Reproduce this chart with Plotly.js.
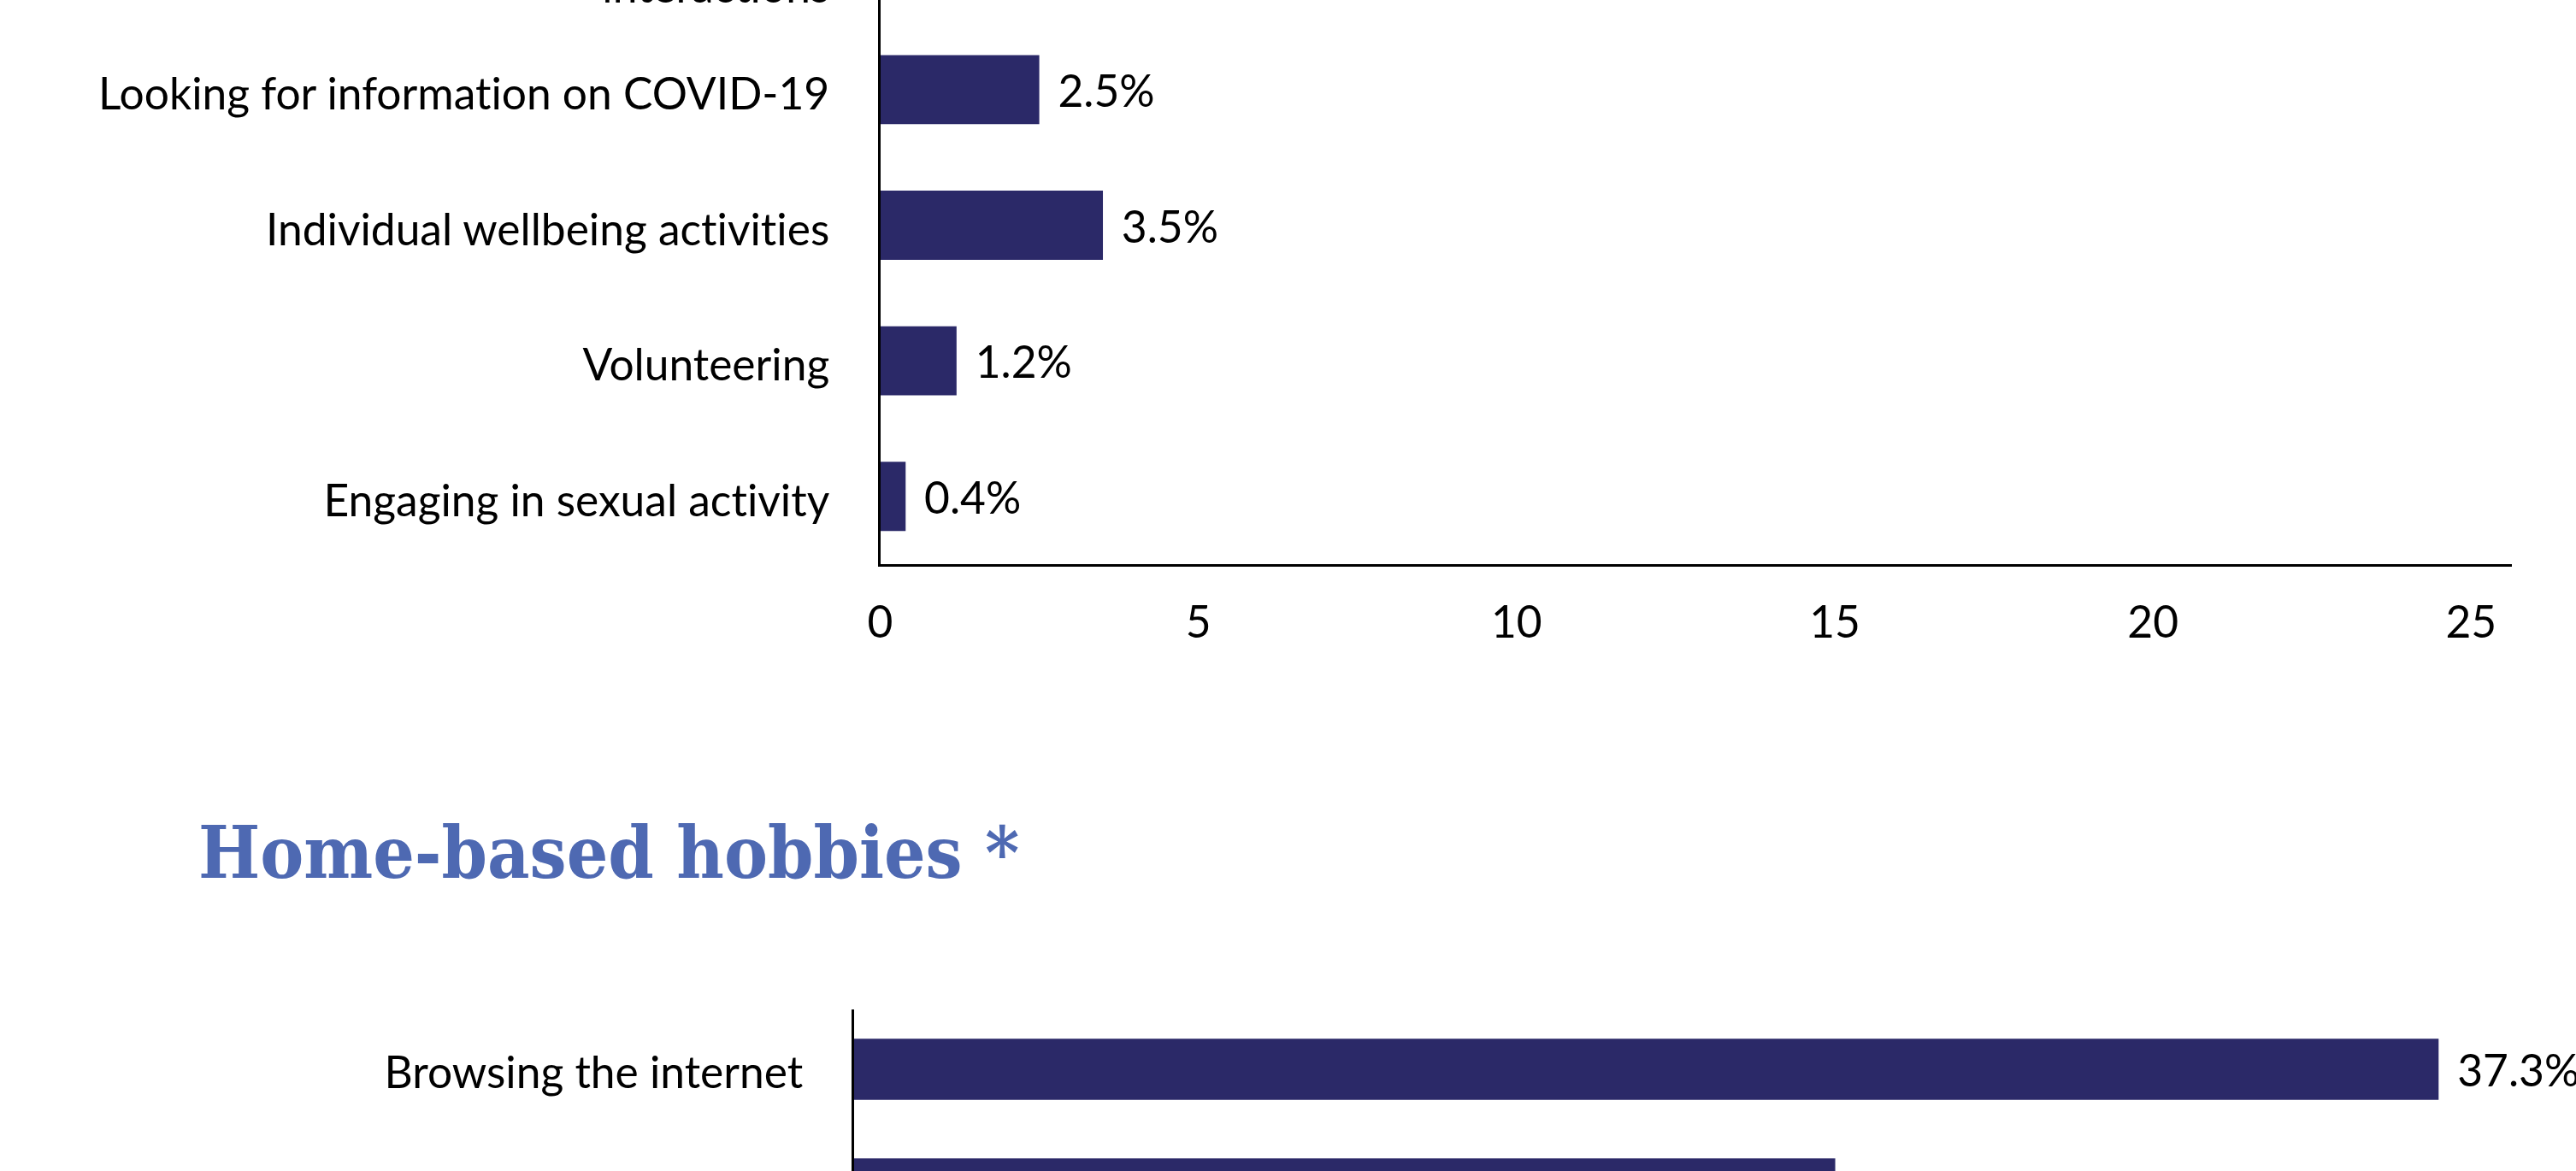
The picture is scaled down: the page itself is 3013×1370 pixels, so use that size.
<!DOCTYPE html>
<html>
<head>
<meta charset="utf-8">
<script src="https://cdn.plot.ly/plotly-3.0.1.min.js"></script>
<style>
  html, body { margin: 0; padding: 0; background: #ffffff; overflow: hidden; width: 3013px; height: 1370px; }
  #chart { position: absolute; left: 0; top: -200px; width: 3013px; height: 1800px; }
  #chart text { font-variant-ligatures: none; font-feature-settings: "liga" 0; }
</style>
</head>
<body>
<div id="chart"></div>
<script>
// ---- Data ----
// Upper chart (top of this view is cut off; first category only partially visible)
const upperCategories = [
  "Online social<br>interactions",
  "Looking for information on COVID-19",
  "Individual wellbeing activities",
  "Volunteering",
  "Engaging in sexual activity"
];
const upperValues = [null, 2.5, 3.5, 1.2, 0.4];
const upperTickValues = [0, 5, 10, 15, 20, 25];
const upperTickLabels = ["0", "5", "10", "15", "20", "25"];

// Lower chart: Home-based hobbies (bottom of this view is cut off)
const lowerTitle = "Home-based hobbies *";
const lowerCategories = ["Browsing the internet", "Watching TV/films"];
const lowerValues = [37.3, 23.1];

// ---- Styling ----
const BAR = "#2b2968";
const LABEL_FONT = { family: "Lato, 'Open Sans', sans-serif", size: 51.5, color: "#000000" };
const W = 3013, H = 1800, T = 200;   // figure size and vertical offset of the div
const px = x => x / W;
const py = y => 1 - (y + T) / H;      // page y -> paper fraction
const LABEL_TEMPLATE = "\u00A0<span style='font-size:22px'>\u00A0</span>%{x:.1f}%";

const traces = [
  {
    type: "bar", orientation: "h",
    x: upperValues, y: upperCategories,
    xaxis: "x", yaxis: "y",
    marker: { color: BAR },
    texttemplate: LABEL_TEMPLATE,
    textposition: "outside",
    textfont: LABEL_FONT,
    constraintext: "none",
    cliponaxis: false,
    hoverinfo: "skip"
  },
  {
    type: "bar", orientation: "h",
    x: lowerValues, y: lowerCategories,
    xaxis: "x2", yaxis: "y2",
    marker: { color: BAR },
    texttemplate: LABEL_TEMPLATE,
    textposition: "outside",
    textfont: LABEL_FONT,
    constraintext: "none",
    cliponaxis: false,
    hoverinfo: "skip"
  }
];

const layout = {
  width: W, height: H,
  margin: { l: 0, r: 0, t: 0, b: 0, pad: 0 },
  paper_bgcolor: "#ffffff",
  plot_bgcolor: "#ffffff",
  showlegend: false,
  bargap: 0.49,
  font: LABEL_FONT,
  xaxis: {
    domain: [px(1029.5), px(2938)],
    range: [0, 25.64],
    anchor: "y",
    tickmode: "array", tickvals: upperTickValues, ticktext: upperTickLabels,
    showgrid: false, zeroline: false,
    showline: true, linecolor: "#000000", linewidth: 3,
    ticks: "", ticklabelstandoff: 21,
    tickfont: LABEL_FONT
  },
  yaxis: {
    domain: [py(660), py(-133)],
    type: "category",
    categoryorder: "array", categoryarray: upperCategories,
    range: [4.5, -0.5],
    anchor: "x",
    showgrid: false, zeroline: false,
    showline: true, linecolor: "#000000", linewidth: 3,
    ticks: "", ticklabelstandoff: 46, ticklabelshift: -5,
    tickfont: LABEL_FONT
  },
  xaxis2: {
    domain: [px(998.5), px(2986.5)],
    range: [0, 40],
    anchor: "y2",
    showgrid: false, zeroline: false,
    showline: false, showticklabels: false, ticks: ""
  },
  yaxis2: {
    domain: [py(1461), py(1181)],
    type: "category",
    categoryorder: "array", categoryarray: lowerCategories,
    range: [1.5, -0.5],
    anchor: "x2",
    showgrid: false, zeroline: false,
    showline: true, linecolor: "#000000", linewidth: 3,
    ticks: "", ticklabelstandoff: 46, ticklabelshift: -4,
    tickfont: LABEL_FONT
  },
  annotations: [
    {
      text: lowerTitle,
      xref: "paper", yref: "paper",
      x: px(230), y: py(997),
      xanchor: "left", yanchor: "middle",
      showarrow: false,
      font: { family: "'DejaVu Serif Condensed', 'DejaVu Serif', serif", size: 85, weight: 700, color: "#4e69b2" }
    }
  ]
};

Plotly.newPlot("chart", traces, layout, { staticPlot: true, displayModeBar: false });
</script>
</body>
</html>
